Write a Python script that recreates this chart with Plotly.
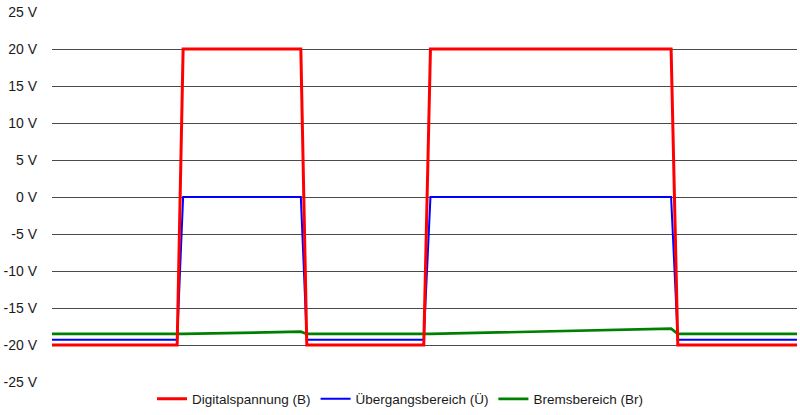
import plotly.graph_objects as go

# time axis (arbitrary units), edges of the switching pulses
t = [0, 16.8, 17.6, 33.4, 34.2, 49.9, 50.8, 83.1, 84.0, 100]

# voltages per series
digital = [-20, -20, 20, 20, -20, -20, 20, 20, -20, -20]
uebergang = [-19.3, -19.3, 0, 0, -19.3, -19.3, 0, 0, -19.3, -19.3]
brems = [-18.5, -18.5, -18.5, -18.2, -18.5, -18.5, -18.5, -17.8, -18.5, -18.5]

y_ticks = [25, 20, 15, 10, 5, 0, -5, -10, -15, -20, -25]
y_labels = [f"{v} V" for v in y_ticks]

fig = go.Figure()
fig.add_trace(go.Scatter(x=t, y=brems, mode="lines", name="Bremsbereich (Br)",
                         line=dict(color="#008000", width=2.7), legendrank=3))
fig.add_trace(go.Scatter(x=t, y=uebergang, mode="lines", name="Übergangsbereich (Ü)",
                         line=dict(color="#0000ff", width=2), legendrank=2))
fig.add_trace(go.Scatter(x=t, y=digital, mode="lines", name="Digitalspannung (B)",
                         line=dict(color="#ff0000", width=3), legendrank=1))

fig.update_layout(
    width=800, height=415,
    margin=dict(l=52, r=3, t=12, b=33),
    paper_bgcolor="white", plot_bgcolor="white",
    font=dict(family="Liberation Sans, Arial, sans-serif", size=13, color="#1a1a1a"),
    showlegend=True,
    legend=dict(orientation="h", xref="container", x=0.5, xanchor="center",
                yref="container", y=1 - 399/415, yanchor="middle",
                font=dict(size=13.5), itemwidth=30, traceorder="normal"),
)
fig.update_xaxes(range=[0, 100], showgrid=False, zeroline=False, showline=False,
                 showticklabels=False, ticks="", automargin=False)
fig.update_yaxes(range=[-25, 25], tickvals=y_ticks, ticktext=y_labels,
                 tickfont=dict(size=14),
                 showgrid=True, gridcolor="#4a4a4a", gridwidth=1, automargin=False,
                 zeroline=False, showline=False, ticks="", ticklabelstandoff=14)

# drop the default 8px page margin so the figure sits at the window corner
fig.write_html("out.html", config={"displayModeBar": False},
               post_script="document.body.style.margin='0';")
